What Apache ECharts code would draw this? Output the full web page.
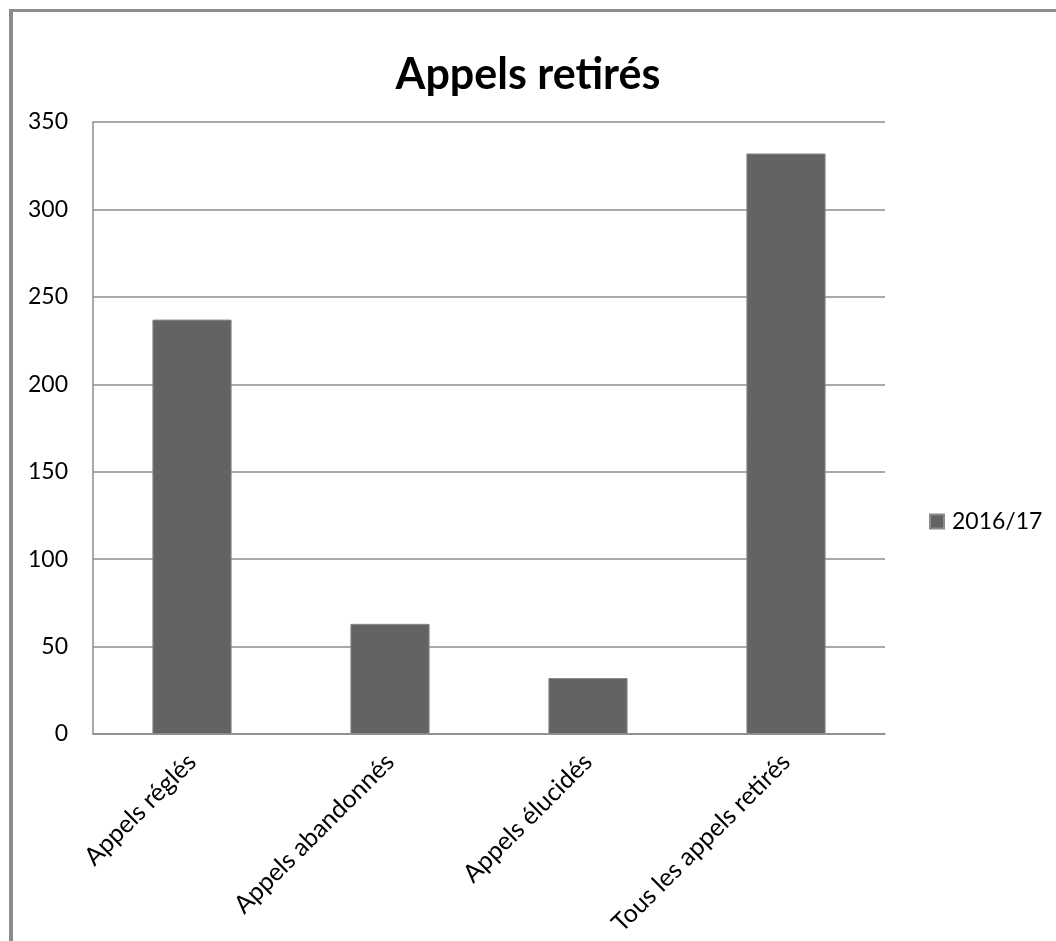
<!DOCTYPE html>
<html>
<head>
<meta charset="utf-8">
<script src="https://cdn.jsdelivr.net/npm/echarts@6/dist/echarts.min.js"></script>
<style>
  html, body { margin: 0; padding: 0; background: #fff; }
  #chart { width: 1056px; height: 941px; }
</style>
</head>
<body>
<div id="chart"></div>
<script>
// Withdrawn appeals by type
const categories = ['Appels réglés', 'Appels abandonnés', 'Appels élucidés', 'Tous les appels retirés'];
const seriesName = '2016/17';
const values = [237, 63, 32, 332];

const FONT = 'Lato, "Open Sans", sans-serif';
const GREY = '#8c8c8c';

const chart = echarts.init(document.getElementById('chart'), null, { renderer: 'canvas' });

chart.setOption({
  backgroundColor: '#ffffff',
  animation: false,
  title: {
    text: 'Appels retirés',
    left: 'center',
    top: 49,
    textStyle: { fontFamily: FONT, fontWeight: 'bold', fontSize: 43, color: '#000' }
  },
  legend: {
    data: [seriesName],
    orient: 'vertical',
    left: 924,
    top: 505,
    itemWidth: 14,
    itemHeight: 14,
    icon: 'rect',
    textStyle: { fontFamily: FONT, fontSize: 23, color: '#000', padding: [0, 0, 0, 3] }
  },
  grid: { left: 93, right: 171, top: 122, bottom: 207, containLabel: false },
  xAxis: {
    type: 'category',
    data: categories,
    axisLine: { show: true, lineStyle: { color: GREY, width: 1.5 } },
    axisTick: { show: false },
    axisLabel: {
      rotate: 45,
      interval: 0,
      margin: 24,
      fontFamily: FONT,
      fontSize: 25,
      color: '#000'
    }
  },
  yAxis: {
    type: 'value',
    min: 0,
    max: 350,
    interval: 50,
    axisLine: { show: true, lineStyle: { color: GREY, width: 1.5 } },
    axisTick: { show: false },
    axisLabel: { margin: 25, fontFamily: FONT, fontSize: 23, color: '#000' },
    splitLine: { show: true, lineStyle: { color: GREY, width: 1.5 } }
  },
  series: [{
    name: seriesName,
    type: 'bar',
    data: values,
    barWidth: '40%',
    itemStyle: { color: '#636363', borderColor: '#8a8a8a', borderWidth: 1 }
  }],
  graphic: [
    { type: 'rect', shape: { x: 9, y: 9, width: 1047, height: 3 }, style: { fill: GREY }, silent: true },
    { type: 'rect', shape: { x: 9, y: 9, width: 4, height: 932 }, style: { fill: GREY }, silent: true }
  ]
});
</script>
</body>
</html>
